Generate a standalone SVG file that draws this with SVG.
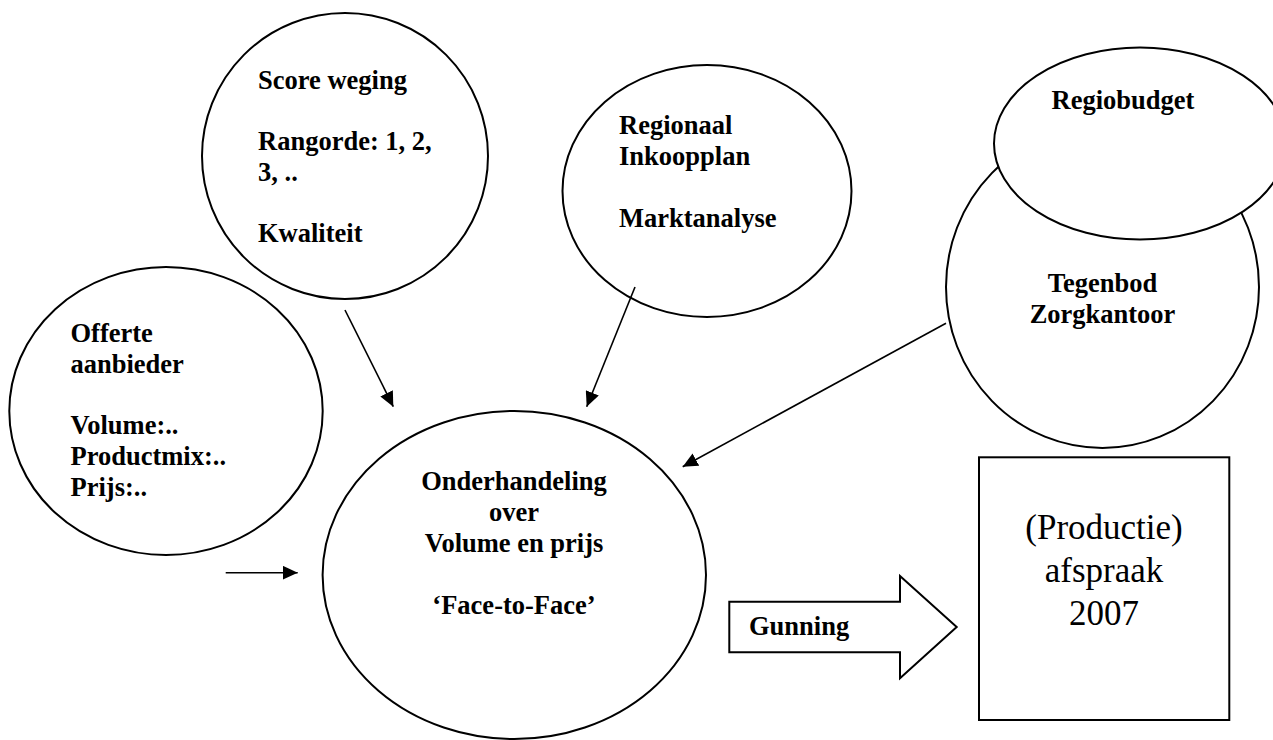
<svg xmlns="http://www.w3.org/2000/svg" width="1273" height="740" viewBox="0 0 1273 740">
<style>
.shape{fill:#fff;stroke:#000;stroke-width:2}
.b{font-family:"Liberation Serif","Times New Roman",serif;font-weight:bold;font-size:26.5px;fill:#000}
.r{font-family:"Liberation Serif","Times New Roman",serif;font-size:35px;fill:#000}
.c{text-anchor:middle}
.conn{stroke:#000;stroke-width:1.6;fill:none;marker-end:url(#ah)}
</style>
<defs>
<marker id="ah" viewBox="0 0 15 14" refX="15" refY="7" markerWidth="15" markerHeight="14" markerUnits="userSpaceOnUse" orient="auto">
<path d="M0,0 L15,7 L0,14 z" fill="#000"/>
</marker>
</defs>
<rect width="1273" height="740" fill="#fff"/>
<g id="score-weging">
<ellipse class="shape" cx="345" cy="156" rx="143" ry="143"/>
<text class="b" x="258" y="89">Score weging</text>
<text class="b" x="258" y="150">Rangorde: 1, 2,</text>
<text class="b" x="258" y="180.5">3, ..</text>
<text class="b" x="258" y="241.5">Kwaliteit</text>
</g>
<g id="regionaal">
<ellipse class="shape" cx="707" cy="191" rx="144.5" ry="126"/>
<text class="b" x="619" y="134">Regionaal</text>
<text class="b" x="619" y="165">Inkoopplan</text>
<text class="b" x="619" y="227">Marktanalyse</text>
</g>
<g id="tegenbod">
<ellipse class="shape" cx="1102.5" cy="287" rx="156.5" ry="161"/>
<text class="b c" x="1102.5" y="292">Tegenbod</text>
<text class="b c" x="1102.5" y="323">Zorgkantoor</text>
</g>
<g id="regiobudget">
<ellipse class="shape" cx="1140" cy="143.5" rx="146" ry="96"/>
<text class="b c" x="1123" y="109">Regiobudget</text>
</g>
<g id="offerte">
<ellipse class="shape" cx="166" cy="411" rx="156.7" ry="144"/>
<text class="b" x="70.5" y="342">Offerte</text>
<text class="b" x="70.5" y="373">aanbieder</text>
<text class="b" x="70.5" y="434">Volume:..</text>
<text class="b" x="70.5" y="464.5">Productmix:..</text>
<text class="b" x="70.5" y="495.5">Prijs:..</text>
</g>
<g id="onderhandeling">
<ellipse class="shape" cx="514.3" cy="575" rx="191.7" ry="164"/>
<text class="b c" x="514" y="490">Onderhandeling</text>
<text class="b c" x="514" y="521">over</text>
<text class="b c" x="514" y="552">Volume en prijs</text>
<text class="b c" x="514" y="614">‘Face-to-Face’</text>
</g>
<g id="gunning">
<path class="shape" d="M729.3,601.7 L900,601.7 L900,576 L956.7,627 L900,678.3 L900,652.3 L729.3,652.3 Z"/>
<text class="b" x="749" y="635">Gunning</text>
</g>
<g id="afspraak">
<rect class="shape" x="979" y="457.3" width="250.3" height="262.7"/>
<text class="r c" x="1104" y="539">(Productie)</text>
<text class="r c" x="1104" y="582">afspraak</text>
<text class="r c" x="1104" y="625">2007</text>
</g>
<g id="connectors">
<line class="conn" x1="345" y1="310" x2="393.3" y2="406.7"/>
<line class="conn" x1="635" y1="287" x2="586.7" y2="406.7"/>
<line class="conn" x1="946" y1="323.3" x2="682.7" y2="466.7"/>
<line class="conn" x1="225.7" y1="572.7" x2="297.7" y2="572.7"/>
</g>
</svg>
